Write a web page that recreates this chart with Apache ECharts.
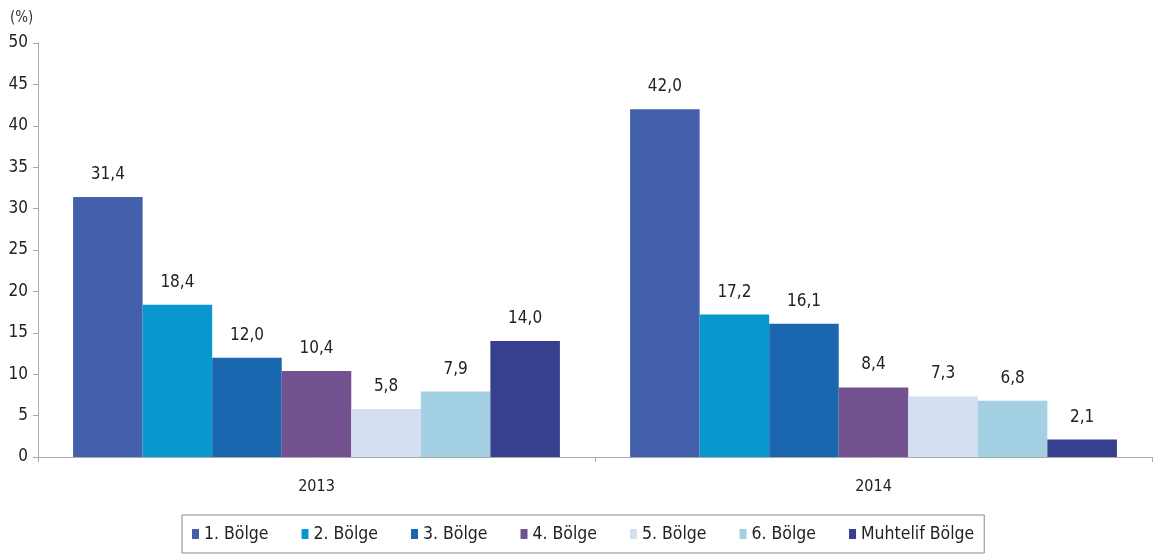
<!DOCTYPE html>
<html><head><meta charset="utf-8">
<script src="https://cdn.jsdelivr.net/npm/echarts@6/dist/echarts.min.js"></script>
<style>html,body{margin:0;padding:0;background:#fff}#c{width:1159px;height:558px}</style>
</head><body><div id="c"></div>
<script>
var categories = ['2013', '2014'];
var seriesNames = ['1. Bölge', '2. Bölge', '3. Bölge', '4. Bölge', '5. Bölge', '6. Bölge', 'Muhtelif Bölge'];
var bolge1 = [31.4, 42.0];
var bolge2 = [18.4, 17.2];
var bolge3 = [12.0, 16.1];
var bolge4 = [10.4, 8.4];
var bolge5 = [5.8, 7.3];
var bolge6 = [7.9, 6.8];
var muhtelif = [14.0, 2.1];
var yTicks = [0, 5, 10, 15, 20, 25, 30, 35, 40, 45, 50];
var colors = ['#4460AA', '#0898CE', '#1A67B0', '#73508E', '#D4E0F2', '#A3D0E2', '#37408F'];
var allData = [bolge1, bolge2, bolge3, bolge4, bolge5, bolge6, muhtelif];

var font = '"Liberation Sans Narrow", "DejaVu Sans Condensed", Arial, sans-serif';
var chart = echarts.init(document.getElementById('c'));
chart.setOption({
  animation: false,
  color: colors,
  grid: {left: 38, right: 7, top: 43, bottom: 101},
  title: {text: '(%)', left: 5, top: 6, textStyle: {fontSize: 15, fontWeight: 'normal', color: '#333', fontFamily: font}},
  legend: {
    bottom: 5, left: 182,
    icon: 'rect',
    itemWidth: 7, itemHeight: 10, itemGap: 33,
    borderColor: '#888', borderWidth: 1, padding: [10, 10, 10, 10],
    textStyle: {fontSize: 17.5, color: '#222', fontFamily: font},
    data: seriesNames
  },
  xAxis: {
    type: 'category', data: categories,
    axisLine: {lineStyle: {color: '#aaa'}},
    axisTick: {show: true, length: 5, lineStyle: {color: '#aaa'}},
    axisLabel: {fontSize: 16, color: '#222', fontFamily: font, margin: 22}
  },
  yAxis: {
    type: 'value', min: 0, max: 50, interval: 5,
    axisLine: {show: true, lineStyle: {color: '#aaa'}},
    axisTick: {show: true, inside: false, length: 5, lineStyle: {color: '#aaa'}},
    splitLine: {show: false},
    axisLabel: {fontSize: 17, color: '#222', fontFamily: font, margin: 10,
      formatter: function(v){ return yTicks.indexOf(v) >= 0 ? String(v) : ''; }}
  },
  series: seriesNames.map(function(n, i){
    return {
      name: n, type: 'bar', data: allData[i],
      barGap: '0%', barCategoryGap: '12.6%',
      label: {show: true, position: 'top', distance: 14, fontSize: 17, color: '#222', fontFamily: font,
        formatter: function(p){ return p.value.toFixed(1).replace('.', ','); }}
    };
  })
});
</script></body></html>
